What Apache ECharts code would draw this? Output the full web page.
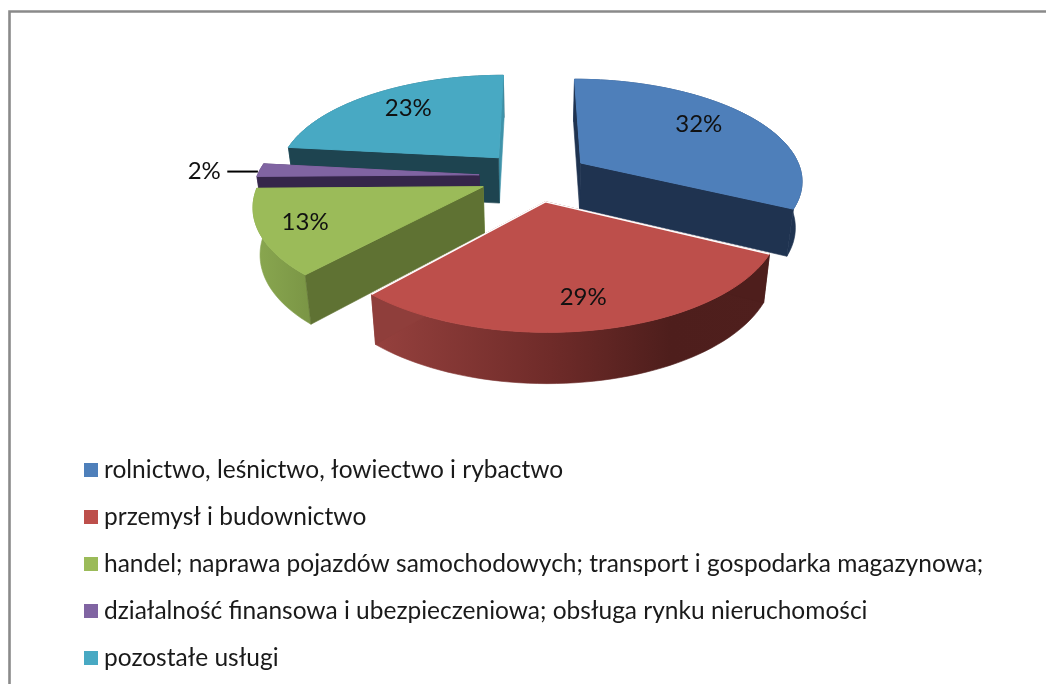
<!DOCTYPE html>
<html>
<head>
<meta charset="utf-8">
<style>html,body{margin:0;padding:0;background:#fff}#c{width:1046px;height:684px}</style>
<script src="https://cdn.jsdelivr.net/npm/echarts@6/dist/echarts.min.js"></script>
</head>
<body>
<div id="c"></div>
<script>
const categories = [
  'rolnictwo, leśnictwo, łowiectwo i rybactwo',
  'przemysł i budownictwo',
  'handel; naprawa pojazdów samochodowych; transport i gospodarka magazynowa;',
  'działalność finansowa i ubezpieczeniowa; obsługa rynku nieruchomości',
  'pozostałe usługi'
];
const shares = [32, 29, 13, 2, 23];
const topColors = ['#4e7fba', '#bd4f4b', '#9bbb59', '#8064a2', '#48a9c3'];
const startFaceColors = ['#1f3350', '#4e1e1c', '#5f7233', '#35264a', '#1e4450'];
const endFaceColors = ['#1f3350', '#8f3e3b', '#7c9846', '#35264a', '#3f93aa'];
const rimStops = [
  [[0, '#26426a'], [1, '#1f3350']],
  [[0, '#96413e'], [0.45, '#6f2b29'], [0.75, '#4e1e1c'], [1, '#4f1f1d']],
  [[0, '#8aa850'], [1, '#7a9545']],
  [[0, '#5a4375'], [1, '#35264a']],
  [[0, '#2a6070'], [1, '#1e4450']]
];
const paintOrder = [4, 3, 2, 0, 1];
const labelRadius = [0.72, 0.8, 0.82, 1.27, 0.74];
const labelNudge = [[-5, -4], [-4, -3], [3, -2], [3, 2], [5, -1]];

const view = { cx: 534.5, cy: 176, rx: 222, ry: 100.8, persp: 0.158, explode: 0.25, depth: 46, squeeze: 0.975 };
const total = shares.reduce((a, b) => a + b, 0);
const rad = d => d * Math.PI / 180;
function project(X, Y) {
  const s = 1 / (1 - view.persp * Y);
  return [view.cx + view.rx * X * s, view.cy + view.ry * Y * s, s];
}
function onSlice(ang, r, mid) {
  const e = view.explode;
  return project(r * Math.sin(rad(ang)) + e * Math.sin(rad(mid)), -r * Math.cos(rad(ang)) - e * Math.cos(rad(mid)));
}
function below(p) {
  return [view.cx + (p[0] - view.cx) * view.squeeze, p[1] + view.depth * Math.sqrt(p[2])];
}
function xy(p) { return [p[0], p[1]]; }

function sliceRenderer(i) {
  return function (params, api) {
    const value = api.value(0);
    let before = 0;
    for (let j = 0; j < i; j++) before += shares[j];
    const a0 = before / total * 360, a1 = (before + value) / total * 360, mid = (a0 + a1) / 2;
    const apex = onSlice(a0, 0, mid);
    const rim = [];
    const n = Math.max(8, Math.ceil((a1 - a0) / 2));
    for (let k = 0; k <= n; k++) rim.push(onSlice(a0 + (a1 - a0) * k / n, 1, mid));
    const first = rim[0], last = rim[rim.length - 1];
    const kids = [];
    const poly = (pts, fill, width) => kids.push({
      type: 'polygon', shape: { points: pts },
      style: { fill: fill, stroke: fill, lineWidth: width }
    });
    poly(rim.map(xy).concat(rim.map(below).reverse()), {
      type: 'linear', x: 0, y: 0, x2: 1, y2: 0,
      colorStops: rimStops[i].map(s => ({ offset: s[0], color: s[1] }))
    }, 0.6);
    poly([xy(apex), xy(last), below(last), below(apex)], endFaceColors[i], 0.6);
    poly([xy(apex), xy(first), below(first), below(apex)], startFaceColors[i], 0.6);
    poly([xy(apex)].concat(rim.map(xy)), topColors[i], 1);
    if (i === 1) {
      kids.push({
        type: 'polyline',
        shape: { points: [xy(first), xy(apex), xy(last)] },
        style: { stroke: '#ffffff', lineWidth: 1.5, fill: null }
      });
    }
    const lab = onSlice(mid, labelRadius[i], mid);
    kids.push({
      type: 'text',
      style: {
        text: value + '%', x: lab[0] + labelNudge[i][0], y: lab[1] + labelNudge[i][1],
        fill: '#111111', font: '24px Lato', align: 'center', verticalAlign: 'middle'
      }
    });
    if (shares[i] < 5) {
      const edge = onSlice(mid, 1, mid), from = onSlice(mid, 1.15, mid);
      kids.push({
        type: 'line',
        shape: { x1: from[0], y1: edge[1] + 1.5, x2: edge[0] - 2, y2: edge[1] + 1.5 },
        style: { stroke: '#000000', lineWidth: 2 }
      });
    }
    return { type: 'group', children: kids };
  };
}

const chart = echarts.init(document.getElementById('c'), null, { renderer: 'canvas' });
chart.setOption({
  animation: false,
  color: topColors,
  graphic: [{
    type: 'rect', silent: true, z: -10,
    shape: { x: 9.5, y: 11.5, width: 1200, height: 900 },
    style: { fill: '#ffffff', stroke: '#8a8a8a', lineWidth: 2.6 }
  }],
  legend: {
    orient: 'vertical', left: 79, top: 452.5, icon: 'rect',
    itemWidth: 14, itemHeight: 14, itemGap: 22, align: 'left',
    data: categories,
    textStyle: { fontFamily: 'Lato', fontSize: 24.5, color: '#1a1a1a', padding: [0, 0, 0, 1] }
  },
  series: categories.map((name, i) => ({
    type: 'custom',
    name: name,
    coordinateSystem: 'none',
    silent: true,
    z: 2 + paintOrder.indexOf(i),
    data: [[shares[i]]],
    renderItem: sliceRenderer(i)
  }))
});
</script>
</body>
</html>
